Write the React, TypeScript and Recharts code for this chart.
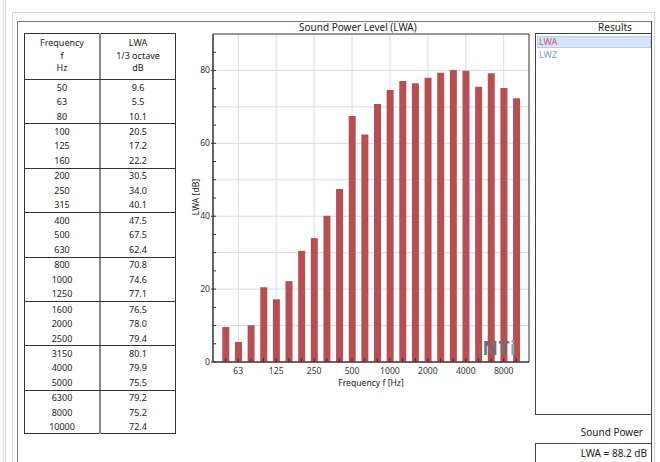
import React from 'react';
import { BarChart, Bar, XAxis, YAxis, CartesianGrid, ReferenceArea } from 'recharts';

const frequencies = ["50", "63", "80", "100", "125", "160", "200", "250", "315", "400", "500", "630", "800", "1000", "1250", "1600", "2000", "2500", "3150", "4000", "5000", "6300", "8000", "10000"];
const lwaValues = [9.6, 5.5, 10.1, 20.5, 17.2, 22.2, 30.5, 34.0, 40.1, 47.5, 67.5, 62.4, 70.8, 74.6, 77.1, 76.5, 78.0, 79.4, 80.1, 79.9, 75.5, 79.2, 75.2, 72.4];
const xTickLabels = ["63", "125", "250", "500", "1000", "2000", "4000", "8000"];
const yMinorTicks = [0, 5, 10, 15, 20, 25, 30, 35, 40, 45, 50, 55, 60, 65, 70, 75, 80, 85];
const yLabelTicks = [0, 20, 40, 60, 80];
const yGridValues = [10, 20, 30, 40, 50, 60, 70, 80];
const resultItems = ["LWA", "LWZ"];
const tableHeader1 = ["Frequency", "f", "Hz"];
const tableHeader2 = ["LWA", "1/3 octave", "dB"];
const soundPowerText = "LWA = 88.2 dB";

const data = frequencies.map((f, i) => ({ idx: i, freq: f, lwa: lwaValues[i] }));
const allIdx = data.map((d) => d.idx);
const xGridIdx = data.filter((d) => xTickLabels.includes(d.freq)).map((d) => d.idx);

const FONT = '"Noto Sans", "DejaVu Sans", sans-serif';

const XTick = (props: any) => {
  const { x, y, payload } = props;
  const d = data[payload.value];
  const show = d && xTickLabels.includes(d.freq);
  return (
    <g>
      <line x1={x} x2={x} y1={y - 4} y2={y} stroke="#333" strokeWidth={1} />
      {show && (
        <text x={x} y={y + 12} textAnchor="middle" fontSize={8.6} fill="#333" fontFamily={FONT}>
          {d.freq}
        </text>
      )}
    </g>
  );
};

const YTick = (props: any) => {
  const { x, y, payload } = props;
  const major = yLabelTicks.includes(payload.value);
  return (
    <g>
      <line x1={major ? x - 2 : x} x2={x + 3} y1={y} y2={y} stroke="#333" strokeWidth={1} />
      {major && (
        <text x={x - 3} y={y + 3} textAnchor="end" fontSize={8.6} fill="#333" fontFamily={FONT}>
          {payload.value}
        </text>
      )}
    </g>
  );
};

const Abs = ({ left, top, width, height, style, children }: any) => (
  <div style={{ position: 'absolute', left, top, width, height, ...style }}>{children}</div>
);

const CenterText = ({ cx, cy, text, size = 9, color = '#222', w = 80 }: any) => (
  <div
    style={{
      position: 'absolute',
      left: cx - w / 2,
      top: cy - 7,
      width: w,
      height: 14,
      lineHeight: '14px',
      textAlign: 'center',
      fontSize: size,
      color,
      whiteSpace: 'nowrap',
    }}
  >
    {text}
  </div>
);

export default function App() {
  const groups = [] as number[][];
  for (let g = 0; g < frequencies.length / 3; g++) groups.push([g * 3, g * 3 + 1, g * 3 + 2]);
  const headerBottom = 79;
  const groupH = 44.4;
  return (
    <div
      style={{
        position: 'absolute',
        left: 0,
        top: 0,
        width: 660,
        height: 462,
        overflow: 'hidden',
        background: '#fff',
        fontFamily: FONT,
        color: '#222',
      }}
    >
      {/* window frame lines */}
      <Abs left={3} top={0} width={1} height={462} style={{ background: '#dcdcdc' }} />
      <Abs left={5} top={0} width={1} height={462} style={{ background: '#dcdcdc' }} />
      <Abs left={12} top={12} width={1} height={450} style={{ background: '#d6d6d6' }} />
      <Abs left={12} top={12} width={643} height={1} style={{ background: '#d6d6d6' }} />
      <Abs left={654} top={12} width={1} height={450} style={{ background: '#d6d6d6' }} />
      <Abs left={17} top={21} width={1} height={441} style={{ background: '#7a7a7a' }} />
      <Abs left={17} top={21} width={635} height={1} style={{ background: '#7a7a7a' }} />
      <Abs left={651} top={21} width={1} height={441} style={{ background: '#444' }} />

      {/* table */}
      <Abs left={24} top={33} width={152} height={401} style={{ border: '1px solid #333', boxSizing: 'border-box' }} />
      <Abs left={99} top={33} width={2} height={401} style={{ background: '#8a8a8a' }} />
      <Abs left={24} top={headerBottom} width={152} height={1} style={{ background: '#333' }} />
      {groups.slice(0, -1).map((_, g) => (
        <Abs key={'sep' + g} left={24} top={headerBottom + groupH * (g + 1)} width={152} height={1} style={{ background: '#333' }} />
      ))}
      {tableHeader1.map((t, i) => (
        <CenterText key={'h1' + i} cx={62} cy={43 + 12.7 * i} text={t} />
      ))}
      {tableHeader2.map((t, i) => (
        <CenterText key={'h2' + i} cx={138} cy={43 + 12.7 * i} text={t} />
      ))}
      {groups.map((rows, g) =>
        rows.map((ri, r) => (
          <React.Fragment key={'row' + ri}>
            <CenterText cx={62} cy={headerBottom + groupH * g + 8.5 + 14.5 * r} text={frequencies[ri]} />
            <CenterText cx={138} cy={headerBottom + groupH * g + 8.5 + 14.5 * r} text={lwaValues[ri].toFixed(1)} />
          </React.Fragment>
        ))
      )}

      {/* chart title */}
      <Abs left={299} top={20} width={140} height={14} style={{ fontSize: 10, lineHeight: '14px', whiteSpace: 'nowrap', color: '#222' }}>
        Sound Power Level (LWA)
      </Abs>

      {/* chart */}
      <div style={{ position: 'absolute', left: 0, top: 0 }}>
        <BarChart width={660} height={462} data={data} margin={{ top: 34, right: 131, bottom: 70, left: 183 }}>
          <CartesianGrid
            stroke="#d9d9ef"
            strokeWidth={1}
            horizontalValues={yGridValues}
            verticalValues={xGridIdx}
          />
          <XAxis
            dataKey="idx"
            type="number"
            domain={[-1, 24]}
            ticks={allIdx}
            interval={0}
            tick={<XTick />}
            tickLine={false}
            tickSize={0}
            tickMargin={0}
            axisLine={{ stroke: '#333' }}
            height={30}
            allowDecimals={false}
          />
          <YAxis
            type="number"
            domain={[0, 90]}
            ticks={yMinorTicks}
            interval={0}
            tick={<YTick />}
            tickLine={false}
            tickSize={0}
            tickMargin={0}
            axisLine={{ stroke: '#333' }}
            width={30}
          />
          <Bar dataKey="lwa" fill="#b94e52" barSize={7} isAnimationActive={false} />
          <ReferenceArea x1={-1} x2={24} y1={0} y2={90} fill="none" stroke="#333" strokeWidth={1} ifOverflow="visible" />
        </BarChart>
      </div>

      {/* axis titles */}
      <Abs left={311} top={376} width={120} height={14} style={{ fontSize: 8.6, lineHeight: '14px', textAlign: 'center', color: '#222' }}>
        Frequency f [Hz]
      </Abs>
      <Abs
        left={156}
        top={190}
        width={80}
        height={14}
        style={{ fontSize: 8.6, lineHeight: '14px', textAlign: 'center', color: '#222', transform: 'rotate(-90deg)' }}
      >
        LWA [dB]
      </Abs>

      {/* watermark */}
      <Abs left={475} top={336} width={56} height={24} style={{ whiteSpace: 'nowrap', color: '#6f6f6f', lineHeight: '24px' }}>
        <span style={{ fontSize: 13, fontWeight: 700 }}>.ı</span>
        <span style={{ fontSize: 19, fontWeight: 700, letterSpacing: 0.5 }}>NT</span>
        <span style={{ fontSize: 19, fontWeight: 700, color: '#8fa4bb' }}>i</span>
      </Abs>

      {/* results panel */}
      <Abs left={585} top={20} width={60} height={14} style={{ fontSize: 10, lineHeight: '14px', textAlign: 'center' }}>
        Results
      </Abs>
      <Abs left={535} top={33} width={117} height={382} style={{ border: '1px solid #444', boxSizing: 'border-box' }} />
      <Abs left={537} top={36} width={114} height={12} style={{ background: '#d6e6f8', border: '1px solid #b3cfee', boxSizing: 'border-box' }} />
      {resultItems.map((t, i) => (
        <Abs
          key={t}
          left={539}
          top={35 + 12.7 * i}
          width={60}
          height={14}
          style={{ fontSize: 9, lineHeight: '14px', color: i === 0 ? '#c35a6c' : '#7e9bcb' }}
        >
          {t}
        </Abs>
      ))}
      <Abs left={540} top={425} width={103} height={14} style={{ fontSize: 10, lineHeight: '14px', textAlign: 'right' }}>
        Sound Power
      </Abs>
      <Abs left={535} top={443} width={117} height={30} style={{ border: '1px solid #444', boxSizing: 'border-box' }} />
      <Abs left={540} top={446} width={107} height={14} style={{ fontSize: 10, lineHeight: '14px', textAlign: 'right' }}>
        {soundPowerText}
      </Abs>
    </div>
  );
}
